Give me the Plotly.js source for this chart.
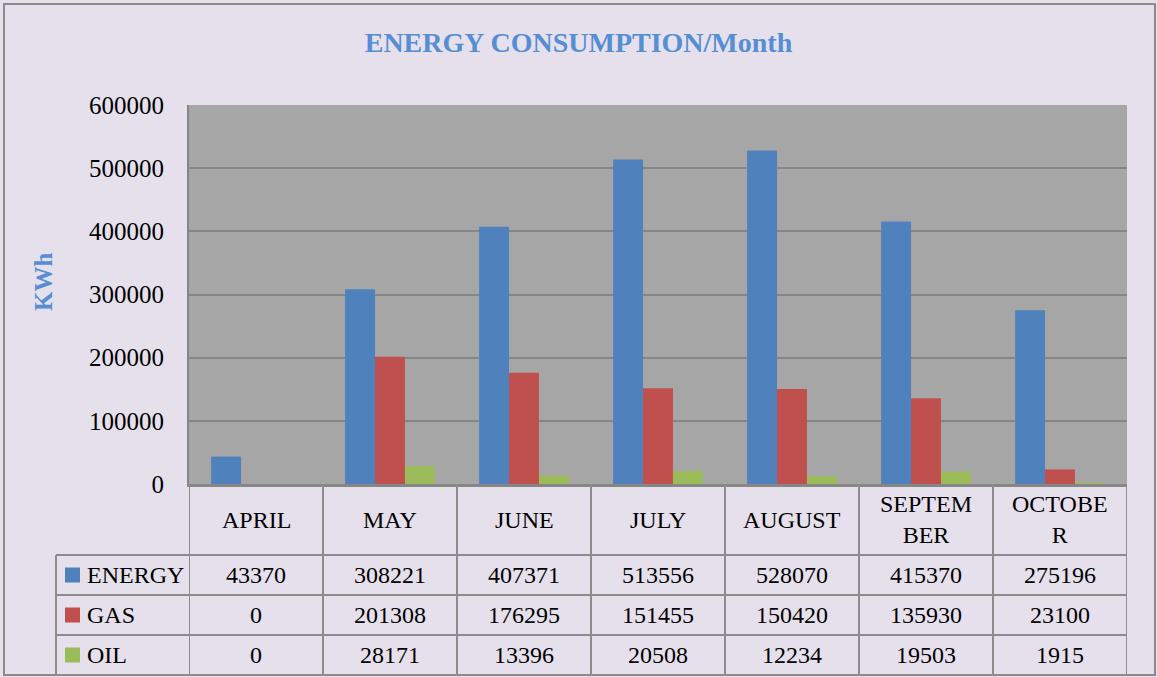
<!DOCTYPE html>
<html>
<head>
<meta charset="utf-8">
<script src="https://cdn.plot.ly/plotly-3.0.1.min.js"></script>
<style>
html,body{margin:0;padding:0;background:#e6e0ec;}
#chart{width:1157px;height:677px;}
</style>
</head>
<body>
<div id="chart"></div>
<script>
// ---- data ----
const months = ['APRIL','MAY','JUNE','JULY','AUGUST','SEPTEMBER','OCTOBER'];
const monthLabels = ['APRIL','MAY','JUNE','JULY','AUGUST','SEPTEM<br>BER','OCTOBE<br>R'];
const seriesNames = ['ENERGY','GAS','OIL'];
const energy = [43370, 308221, 407371, 513556, 528070, 415370, 275196];
const gas    = [0, 201308, 176295, 151455, 150420, 135930, 23100];
const oil    = [0, 28171, 13396, 20508, 12234, 19503, 1915];
const seriesValues = [energy, gas, oil];
const seriesColors = ['#4f81bd', '#c0504d', '#9bbb59'];

// ---- layout geometry (pixels) ----
const W = 1157, H = 677;
const plotL = 189, plotR = 1127, plotT = 105, plotB = 484;
const pw = plotR - plotL, ph = plotB - plotT;
const px = p => (p - plotL) / pw;       // pixel x -> paper x
const py = p => (plotB - p) / ph;       // pixel y -> paper y

const FONT = 'Liberation Serif, Cambria, serif';
const lineCol = '#8c8c8c';

const traces = seriesNames.map((name, i) => ({
  type: 'bar',
  name: name,
  x: months,
  y: seriesValues[i],
  marker: {color: seriesColors[i], line: {width: 0}},
  hoverinfo: 'skip'
}));

// table rows
const headerTop = 484, headerBot = 555, rowH = 40;
const rowTops = [555, 595, 635];
const tableBot = 675;

const shapes = [];
const annotations = [];

// outer border
shapes.push({type:'rect', xref:'paper', yref:'paper', x0:px(4), x1:px(1155), y0:py(4), y1:py(675),
  line:{color:'#8a8a8a', width:2}, fillcolor:'rgba(0,0,0,0)', layer:'below'});

// horizontal table lines
shapes.push({type:'line', xref:'paper', yref:'paper', x0:px(56), x1:px(plotR), y0:py(headerBot), y1:py(headerBot), line:{color:lineCol, width:2}});
[595, 635, tableBot].forEach(y => {
  shapes.push({type:'line', xref:'paper', yref:'paper', x0:px(56), x1:px(plotR), y0:py(y), y1:py(y), line:{color:lineCol, width:2}});
});
// vertical table lines
shapes.push({type:'line', xref:'paper', yref:'paper', x0:px(56), x1:px(56), y0:py(headerBot), y1:py(tableBot), line:{color:lineCol, width:2}});
for (let k = 0; k <= months.length; k++) {
  shapes.push({type:'line', xref:'x', yref:'paper', x0:k-0.5, x1:k-0.5, y0:py(headerTop), y1:py(tableBot), line:{color:lineCol, width:2}});
}

// header labels
monthLabels.forEach((m, i) => {
  annotations.push({xref:'x', yref:'paper', x:i, y:py((headerTop+headerBot)/2), text:m, showarrow:false,
    xanchor:'center', yanchor:'middle', font:{family:FONT, size:24, color:'#000'}});
});

// rows
seriesNames.forEach((name, r) => {
  const cy = rowTops[r] + rowH/2;
  shapes.push({type:'rect', xref:'paper', yref:'paper', x0:px(65), x1:px(80), y0:py(cy-7.5), y1:py(cy+7.5),
    fillcolor:seriesColors[r], line:{width:0}});
  annotations.push({xref:'paper', yref:'paper', x:px(85), y:py(cy), text:name, showarrow:false,
    xanchor:'left', yanchor:'middle', font:{family:FONT, size:24, color:'#000'}});
  seriesValues[r].forEach((v, i) => {
    annotations.push({xref:'x', yref:'paper', x:i, y:py(cy), text:String(v), showarrow:false,
      xanchor:'center', yanchor:'middle', font:{family:FONT, size:24, color:'#000'}});
  });
});

// y-axis title (placed as rotated annotation)
annotations.push({xref:'paper', yref:'paper', x:px(43), y:py(282), text:'KWh', textangle:-90, showarrow:false,
  xanchor:'center', yanchor:'middle', font:{family:FONT, size:25, color:'#558ed5', weight:'bold'}});

const layout = {
  width: W, height: H,
  paper_bgcolor: '#e6e0ec',
  plot_bgcolor: '#a6a6a6',
  margin: {l: plotL, r: W - plotR, t: plotT, b: H - plotB, pad: 0},
  title: {text: 'ENERGY CONSUMPTION/Month', x: 0.5, xref: 'container', xanchor: 'center',
    y: 1 - 42/H, yref: 'container', yanchor: 'middle',
    font: {family: FONT, size: 28, color: '#558ed5', weight: 'bold'}},
  showlegend: false,
  barmode: 'group',
  bargap: 0.33,
  bargroupgap: 0,
  xaxis: {type: 'category', showticklabels: false, ticks: '', showgrid: false,
    range: [-0.5, months.length - 0.5], showline: true, linecolor: '#868686', linewidth: 3, zeroline: false, fixedrange: true},
  yaxis: {range: [0, 600000], dtick: 100000, tickformat: 'd', showgrid: true, gridcolor: '#868686', gridwidth: 2,
    showline: true, linecolor: '#868686', linewidth: 2, zeroline: false, ticks: '', ticklabelstandoff: 18,
    tickfont: {family: FONT, size: 25, color: '#000'},
    automargin: false, fixedrange: true},
  shapes: shapes,
  annotations: annotations,
  hovermode: false
};

Plotly.newPlot('chart', traces, layout, {staticPlot: true, displayModeBar: false});
</script>
</body>
</html>
